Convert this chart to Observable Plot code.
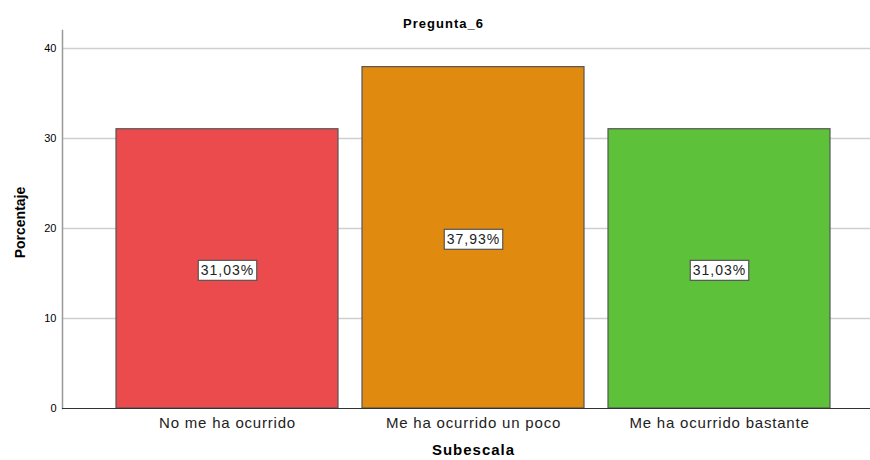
<!DOCTYPE html>
<html>
<head>
<meta charset="utf-8">
<script src="https://cdn.jsdelivr.net/npm/d3@7"></script>
<script src="https://cdn.jsdelivr.net/npm/@observablehq/plot@0.6"></script>
<style>
  body { margin: 0; background: #fff; }
  svg { font-family: "Liberation Sans", Arial, sans-serif; }
  g.xaxis text { letter-spacing: 0.8px; }
  g.vlabel text { letter-spacing: 1px; }
  g.ttl text { letter-spacing: 1px; }
  g.xlab text { letter-spacing: 1px; }
</style>
</head>
<body>
<div id="chart"></div>
<script>
const categories = ["No me ha ocurrido", "Me ha ocurrido un poco", "Me ha ocurrido bastante"];
const values = [31.03, 37.93, 31.03];
const labels = ["31,03%", "37,93%", "31,03%"];
const colors = ["#EC4B4E", "#E08A10", "#5DC13A"];
const yTicks = [0, 10, 20, 30, 40];

const data = categories.map((c, i) => ({cat: c, value: values[i], label: labels[i]}));

const chart = Plot.plot({
  width: 870,
  height: 460,
  marginLeft: 62,
  marginRight: 0,
  marginTop: 30,
  marginBottom: 52,
  style: {fontFamily: "'Liberation Sans', Arial, sans-serif", background: "#fff"},
  x: {domain: categories, range: [104, 842], paddingInner: 0.0976, paddingOuter: 0.0488, label: null},
  y: {domain: [0, 42], label: null},
  color: {domain: categories, range: colors},
  marks: [
    Plot.gridY([10, 20, 30, 40], {stroke: "#cfcfcf", strokeOpacity: 1, strokeWidth: 1.5}),
    Plot.frame({anchor: "left", stroke: "#999", strokeWidth: 1.5}),
    Plot.barY(data, {x: "cat", y: "value", fill: "cat", stroke: "#555", strokeWidth: 1.2}),
    Plot.ruleY([0], {stroke: "#333", strokeWidth: 1.2}),
    Plot.axisY({ticks: yTicks, tickSize: 0, tickPadding: 6, fontSize: 11, label: null, color: "#000"}),
    Plot.axisX({tickSize: 0, tickPadding: 9, fontSize: 15, label: null, color: "#222", className: "xaxis"}),
    Plot.text(data, {x: "cat", y: d => d.value / 2, text: "label", fontSize: 14, fill: "#222", dy: 2, className: "vlabel"}),
    Plot.text(["Pregunta_6"], {frameAnchor: "top", dx: -23, dy: -12, fontSize: 13, fontWeight: "bold", fill: "#000", className: "ttl"}),
    Plot.text(["Porcentaje"], {frameAnchor: "left", textAnchor: "middle", dx: -42, dy: 3, rotate: -90, fontSize: 14, fontWeight: "bold", fill: "#000"}),
    Plot.text(["Subescala"], {frameAnchor: "bottom", dx: 7, dy: 46, fontSize: 15, fontWeight: "bold", fill: "#000", className: "xlab"})
  ]
});

document.getElementById("chart").appendChild(chart);

// white boxes behind value labels
d3.select(chart).selectAll("g.vlabel text").each(function() {
  const b = this.getBBox();
  const padX = 2.5, padY = 2;
  d3.select(this.parentNode).insert("rect", () => this)
    .attr("x", b.x - padX).attr("y", b.y - padY)
    .attr("width", b.width + 2 * padX).attr("height", b.height + 2 * padY)
    .attr("transform", this.getAttribute("transform"))
    .attr("fill", "#fff").attr("stroke", "#555").attr("stroke-width", 1.2);
});
</script>
</body>
</html>
